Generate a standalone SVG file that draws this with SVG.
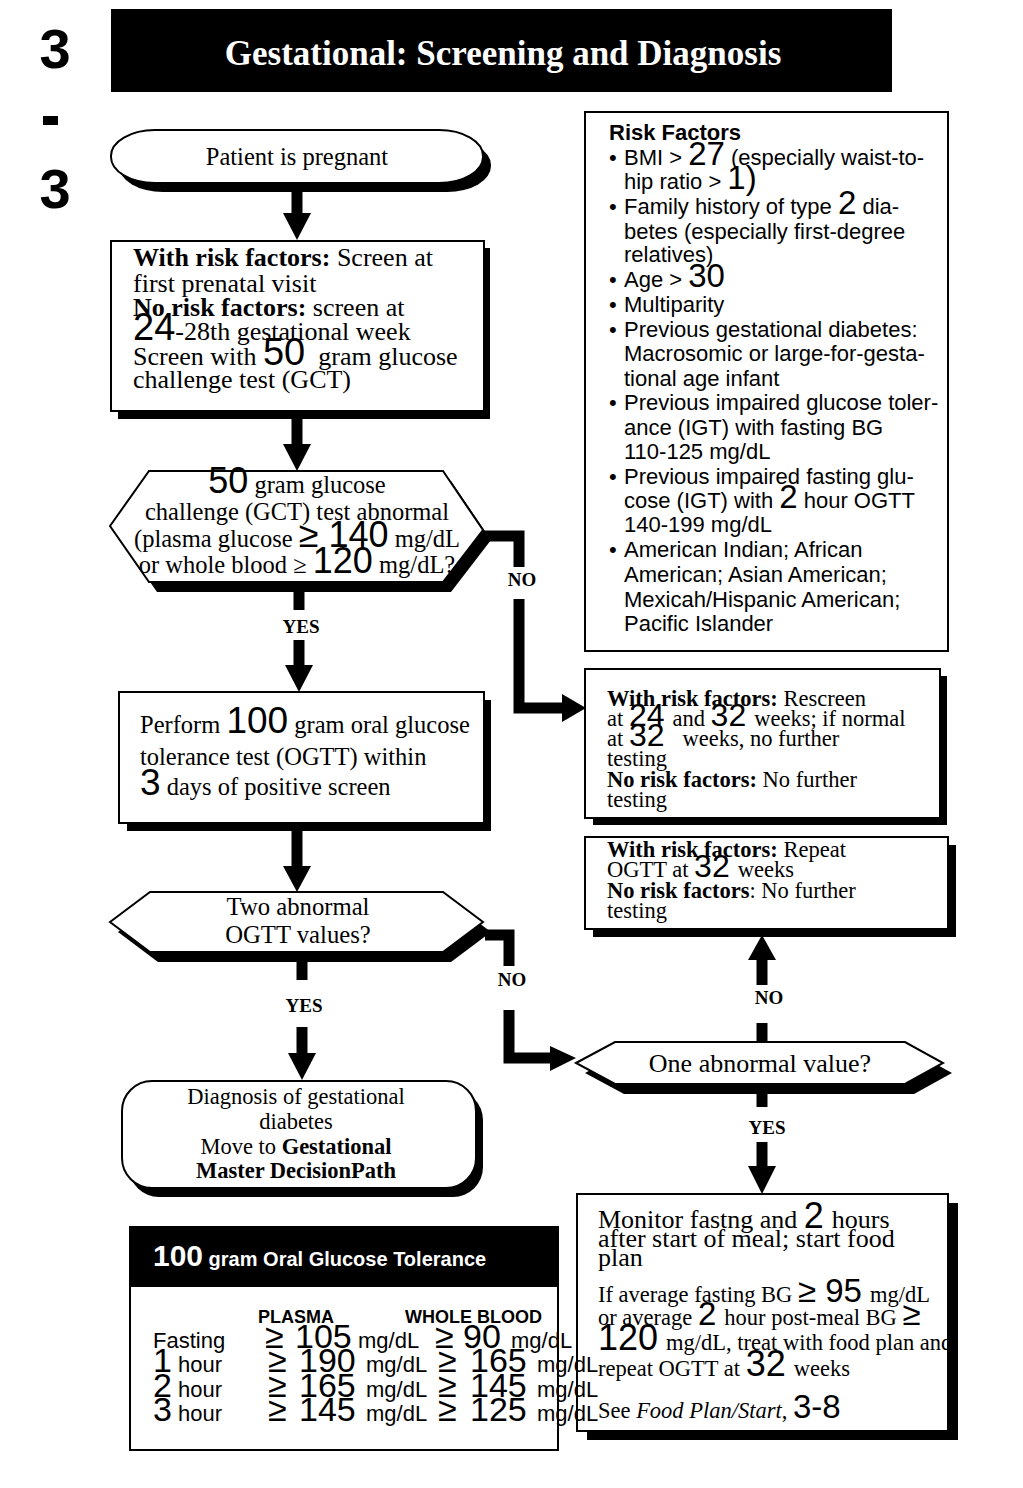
<svg xmlns="http://www.w3.org/2000/svg" width="1023" height="1488" viewBox="0 0 1023 1488">
<style>
.sf{font-family:"Liberation Serif",serif}
.ss{font-family:"Liberation Sans",sans-serif}
.b{font-weight:bold}
.n{font-family:"Liberation Sans",sans-serif}
.box{fill:#fff;stroke:#000;stroke-width:2}
.sh{fill:#000}
.ln{fill:none;stroke:#000;stroke-width:11;stroke-linejoin:miter}
.hd{fill:#000}
.lbl{font-family:"Liberation Serif",serif;font-weight:bold;font-size:19px;text-anchor:middle}
</style>
<rect width="1023" height="1488" fill="#fff"/>

<g id="page-number" class="ss b" font-size="56" text-anchor="middle">
  <text x="55" y="68">3</text>
  <rect x="43" y="116" width="15" height="9" fill="#000"/>
  <text x="55" y="208">3</text>
</g>

<g id="title">
  <rect x="111" y="9" width="781" height="83" fill="#000"/>
  <text x="503" y="65" class="sf b" font-size="35" fill="#fff" text-anchor="middle">Gestational: Screening and Diagnosis</text>
</g>

<g id="connectors">
  <line class="ln" x1="297" y1="190" x2="297" y2="215"/>
  <polygon class="hd" points="283,213 311,213 297,240"/>
  <line class="ln" x1="297" y1="418" x2="297" y2="446"/>
  <polygon class="hd" points="283,444 311,444 297,471"/>
  <line class="ln" x1="299" y1="592" x2="299" y2="610"/>
  <line class="ln" x1="299" y1="640" x2="299" y2="667"/>
  <polygon class="hd" points="285,665 313,665 299,692"/>
  <polyline class="ln" points="483,536 519,536 519,567"/>
  <polyline class="ln" points="519,599 519,708 564,708"/>
  <polygon class="hd" points="562,694 562,722 586,708"/>
  <line class="ln" x1="297" y1="830" x2="297" y2="868"/>
  <polygon class="hd" points="283,866 311,866 297,892"/>
  <line class="ln" x1="302" y1="962" x2="302" y2="980"/>
  <line class="ln" x1="302" y1="1027" x2="302" y2="1055"/>
  <polygon class="hd" points="288,1053 316,1053 302,1080"/>
  <polyline class="ln" points="485,935 509,935 509,966"/>
  <polyline class="ln" points="509,1010 509,1058 552,1058"/>
  <polygon class="hd" points="550,1046 550,1071 576,1058"/>
  <line class="ln" x1="762" y1="1042" x2="762" y2="1023"/>
  <line class="ln" x1="762" y1="985" x2="762" y2="958"/>
  <polygon class="hd" points="748,960 776,960 762,935"/>
  <line class="ln" x1="762" y1="1094" x2="762" y2="1107"/>
  <line class="ln" x1="762" y1="1142" x2="762" y2="1168"/>
  <polygon class="hd" points="748,1166 776,1166 762,1194"/>
  <text class="lbl" x="301" y="633">YES</text>
  <text class="lbl" x="522" y="586">NO</text>
  <text class="lbl" x="304" y="1012">YES</text>
  <text class="lbl" x="512" y="986">NO</text>
  <text class="lbl" x="769" y="1004">NO</text>
  <text class="lbl" x="767" y="1134">YES</text>
</g>

<g id="start">
  <rect class="sh" x="119" y="139" width="372" height="53" rx="44" ry="26"/>
  <rect class="box" x="111" y="130" width="372" height="53" rx="44" ry="26"/>
  <text x="297" y="165" class="sf" font-size="24.5" text-anchor="middle">Patient is pregnant</text>
</g>

<g id="screen-box">
  <rect class="sh" x="118" y="248" width="372" height="171"/>
  <rect class="box" x="111" y="241" width="373" height="170"/>
  <g class="sf" font-size="26">
    <text x="133" y="266"><tspan class="b">With risk factors:</tspan> Screen at</text>
    <text x="133" y="292">first prenatal visit</text>
    <text x="133" y="316"><tspan class="b">No risk factors:</tspan> screen at</text>
    <text x="133" y="340"><tspan class="n" font-size="38">24</tspan>-28th gestational week</text>
    <text x="133" y="365">Screen with <tspan class="n" font-size="38">50</tspan><tspan dx="13">gram glucose</tspan></text>
    <text x="133" y="388">challenge test (GCT)</text>
  </g>
</g>

<g id="gct-decision">
  <polygon class="sh" points="118,536 157,481 451,481 491,540 451,592 157,592"/>
  <polygon class="box" points="110,526 149,471 443,471 483,530 443,582 149,582"/>
  <g class="sf" font-size="24.5" text-anchor="middle">
    <text x="297" y="493"><tspan class="n" font-size="36">50</tspan> gram glucose</text>
    <text x="297" y="520">challenge (GCT) test abnormal</text>
    <text x="297" y="547">(plasma glucose <tspan class="n" font-size="36">≥ 140</tspan> mg/dL</text>
    <text x="297" y="573">or whole blood ≥ <tspan class="n" font-size="36">120</tspan> mg/dL?</text>
  </g>
</g>

<g id="risk-factors">
  <rect class="box" x="585" y="112" width="363" height="539"/>
  <g class="ss" font-size="22">
    <text x="609" y="140" class="b">Risk Factors</text>
    <text x="609" y="165">•</text><text x="624" y="165">BMI &gt; <tspan font-size="33">27</tspan> (especially waist-to-</text>
    <text x="624" y="189">hip ratio &gt; <tspan font-size="33">1)</tspan></text>
    <text x="609" y="214">•</text><text x="624" y="214">Family history of type <tspan font-size="33">2</tspan> dia-</text>
    <text x="624" y="239">betes (especially first-degree</text>
    <text x="624" y="262">relatives)</text>
    <text x="609" y="287">•</text><text x="624" y="287">Age &gt; <tspan font-size="33">30</tspan></text>
    <text x="609" y="312">•</text><text x="624" y="312">Multiparity</text>
    <text x="609" y="337">•</text><text x="624" y="337">Previous gestational diabetes:</text>
    <text x="624" y="361">Macrosomic or large-for-gesta-</text>
    <text x="624" y="386">tional age infant</text>
    <text x="609" y="410">•</text><text x="624" y="410">Previous impaired glucose toler-</text>
    <text x="624" y="435">ance (IGT) with fasting BG</text>
    <text x="624" y="459">110-125 mg/dL</text>
    <text x="609" y="484">•</text><text x="624" y="484">Previous impaired fasting glu-</text>
    <text x="624" y="508">cose (IGT) with <tspan font-size="33">2</tspan> hour OGTT</text>
    <text x="624" y="532">140-199 mg/dL</text>
    <text x="609" y="557">•</text><text x="624" y="557">American Indian; African</text>
    <text x="624" y="582">American; Asian American;</text>
    <text x="624" y="607">Mexicah/Hispanic American;</text>
    <text x="624" y="631">Pacific Islander</text>
  </g>
</g>

<g id="ogtt-box">
  <rect class="sh" x="127" y="700" width="364" height="131"/>
  <rect class="box" x="119" y="692" width="365" height="131"/>
  <g class="sf" font-size="24.5">
    <text x="140" y="733">Perform <tspan class="n" font-size="37">100</tspan> gram oral glucose</text>
    <text x="140" y="765">tolerance test (OGTT) within</text>
    <text x="140" y="795"><tspan class="n" font-size="37">3</tspan> days of positive screen</text>
  </g>
</g>

<g id="rescreen-box">
  <rect class="sh" x="593" y="676" width="354" height="149"/>
  <rect class="box" x="585" y="669" width="355" height="149"/>
  <g class="sf" font-size="22.5">
    <text x="607" y="706"><tspan class="b">With risk factors:</tspan> Rescreen</text>
    <text x="607" y="726">at <tspan class="n" font-size="32">24</tspan><tspan dx="8">and</tspan> <tspan class="n" font-size="32">32</tspan><tspan dx="8">weeks; if normal</tspan></text>
    <text x="607" y="746">at <tspan class="n" font-size="32">32</tspan><tspan dx="18">weeks, no further</tspan></text>
    <text x="607" y="766">testing</text>
    <text x="607" y="787"><tspan class="b">No risk factors:</tspan> No further</text>
    <text x="607" y="807">testing</text>
  </g>
</g>

<g id="repeat-box">
  <rect class="sh" x="593" y="845" width="363" height="92"/>
  <rect class="box" x="585" y="837" width="363" height="92"/>
  <g class="sf" font-size="22.5">
    <text x="607" y="857"><tspan class="b">With risk factors:</tspan> Repeat</text>
    <text x="607" y="877">OGTT at <tspan class="n" font-size="32">32</tspan><tspan dx="8">weeks</tspan></text>
    <text x="607" y="898"><tspan class="b">No risk factors</tspan>: No further</text>
    <text x="607" y="918">testing</text>
  </g>
</g>

<g id="two-abnormal-decision">
  <polygon class="sh" points="118,932 158,902 451,902 491,932 451,962 158,962"/>
  <polygon class="box" points="110,922 150,892 443,892 483,922 443,952 150,952"/>
  <g class="sf" font-size="24.7" text-anchor="middle">
    <text x="298" y="915">Two abnormal</text>
    <text x="298" y="943">OGTT values?</text>
  </g>
</g>

<g id="one-abnormal-decision">
  <polygon class="sh" points="585,1073 624,1052 914,1052 952,1073 914,1094 624,1094"/>
  <polygon class="box" points="576,1063 615,1042 905,1042 943,1063 905,1084 615,1084"/>
  <text x="760" y="1072" class="sf" font-size="26" text-anchor="middle">One abnormal value?</text>
</g>

<g id="diagnosis">
  <rect class="sh" x="129" y="1090" width="354" height="107" rx="30"/>
  <rect class="box" x="122" y="1081" width="354" height="107" rx="30"/>
  <g class="sf" font-size="22.5" text-anchor="middle">
    <text x="296" y="1104">Diagnosis of gestational</text>
    <text x="296" y="1129">diabetes</text>
    <text x="296" y="1154">Move to <tspan class="b">Gestational</tspan></text>
    <text x="296" y="1178" class="b">Master DecisionPath</text>
  </g>
</g>

<g id="monitor-box">
  <rect class="sh" x="587" y="1203" width="371" height="237"/>
  <rect class="box" x="577" y="1194" width="371" height="237"/>
  <g class="sf" font-size="22.5">
    <text x="598" y="1228" font-size="26">Monitor fastng and <tspan class="n" font-size="36">2</tspan><tspan dx="8">hours</tspan></text>
    <text x="598" y="1247" font-size="26">after start of meal; start food</text>
    <text x="598" y="1266" font-size="26">plan</text>
    <text x="598" y="1302">If average fasting BG <tspan class="n" font-size="33">≥ 95</tspan><tspan dx="8">mg/dL</tspan></text>
    <text x="598" y="1325">or average <tspan class="n" font-size="33">2</tspan><tspan dx="8">hour post-meal BG</tspan> <tspan class="n" font-size="33">≥</tspan></text>
    <text x="598" y="1350"><tspan class="n" font-size="36">120</tspan><tspan dx="8">mg/dL, treat with food plan and</tspan></text>
    <text x="598" y="1376">repeat OGTT at <tspan class="n" font-size="36">32</tspan><tspan dx="8">weeks</tspan></text>
    <text x="598" y="1418">See <tspan font-style="italic">Food Plan/Start</tspan>, <tspan class="n" font-size="33">3-8</tspan></text>
  </g>
</g>

<g id="ogtt-table">
  <rect x="130" y="1227" width="428" height="223" fill="#fff" stroke="#000" stroke-width="2"/>
  <rect x="130" y="1227" width="428" height="60" fill="#000"/>
  <text x="153" y="1266" class="ss b" font-size="20" fill="#fff"><tspan font-size="30">100</tspan> gram Oral Glucose Tolerance</text>
  <g class="ss" font-size="22">
    <text x="258" y="1323" class="b" font-size="18">PLASMA</text>
    <text x="405" y="1323" class="b" font-size="18">WHOLE BLOOD</text>
    <text x="153" y="1348">Fasting</text>
    <text x="265" y="1348" font-size="34">≥</text><text x="295" y="1348" font-size="34">105</text><text x="358" y="1348">mg/dL</text>
    <text x="435" y="1348" font-size="34">≥</text><text x="463" y="1348" font-size="34">90</text><text x="511" y="1348">mg/dL</text>
    <text x="153" y="1372"><tspan font-size="34">1</tspan>  hour</text>
    <text x="268" y="1372" font-size="34">≥</text><text x="299" y="1372" font-size="34">190</text><text x="366" y="1372">mg/dL</text>
    <text x="438" y="1372" font-size="34">≥</text><text x="470" y="1372" font-size="34">165</text><text x="537" y="1372">mg/dL</text>
    <text x="153" y="1397"><tspan font-size="34">2</tspan>  hour</text>
    <text x="268" y="1397" font-size="34">≥</text><text x="299" y="1397" font-size="34">165</text><text x="366" y="1397">mg/dL</text>
    <text x="438" y="1397" font-size="34">≥</text><text x="470" y="1397" font-size="34">145</text><text x="537" y="1397">mg/dL</text>
    <text x="153" y="1421"><tspan font-size="34">3</tspan>  hour</text>
    <text x="268" y="1421" font-size="34">≥</text><text x="299" y="1421" font-size="34">145</text><text x="366" y="1421">mg/dL</text>
    <text x="438" y="1421" font-size="34">≥</text><text x="470" y="1421" font-size="34">125</text><text x="537" y="1421">mg/dL</text>
  </g>
</g>
</svg>
